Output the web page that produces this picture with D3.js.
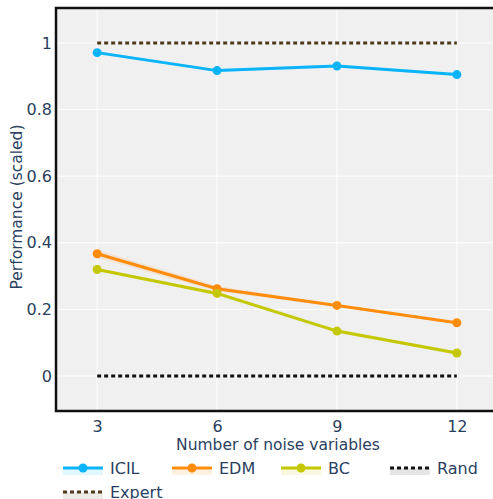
<!DOCTYPE html>
<html>
<head>
<meta charset="utf-8">
<script src="https://cdn.jsdelivr.net/npm/d3@7"></script>
<style>
  body { margin: 0; background: #fff; }
  text { font-family: "DejaVu Sans", Verdana, sans-serif; fill: #2a3f5f; }
</style>
</head>
<body>
<div id="chart"></div>
<script>
var noiseVars = [3, 6, 9, 12];
var icil = [0.971, 0.917, 0.931, 0.905];
var icilErr = [0.004, 0.004, 0.004, 0.004];
var edm = [0.367, 0.262, 0.212, 0.160];
var edmErr = [0.012, 0.008, 0.004, 0.004];
var bc = [0.320, 0.248, 0.135, 0.069];
var bcErr = [0.004, 0.006, 0.006, 0.006];
var expert = [1, 1, 1, 1];
var rand = [0, 0, 0, 0];
var yTicks = [0, 0.2, 0.4, 0.6, 0.8, 1];

var series = [
    { name: "ICIL", values: icil, err: icilErr, color: "#0ab4fa", fill: "rgba(10,180,250,0.12)", marker: true },
    { name: "EDM", values: edm, err: edmErr, color: "#ff8c0a", fill: "rgba(255,140,10,0.12)", marker: true },
    { name: "BC", values: bc, err: bcErr, color: "#c4c800", fill: "rgba(196,200,0,0.12)", marker: true },
    { name: "Rand", values: rand, err: null, color: "#111111", fill: "rgba(0,0,0,0.1)", dash: true },
    { name: "Expert", values: expert, err: null, color: "#4e3b1c", fill: "rgba(78,59,28,0.1)", dash: true }
];

function draw(divId) {
    d3.select(divId).html("");

    var width = 493,
        height = 499;

    var svg = d3.select(divId)
        .append("svg")
        .attr("width", width)
        .attr("height", height);

    var x = d3.scaleLinear().domain([1.97, 13.03]).range([56, 498]);
    var y = d3.scaleLinear().domain([-0.105, 1.105]).range([411, 8]);

    svg.append("rect")
        .attr("x", x.range()[0]).attr("y", y.range()[1])
        .attr("width", x.range()[1] - x.range()[0])
        .attr("height", y.range()[0] - y.range()[1])
        .attr("fill", "#f0f0f0");

    // grid
    svg.append("g").selectAll("line")
        .data(yTicks).enter().append("line")
        .attr("x1", x.range()[0]).attr("x2", x.range()[1])
        .attr("y1", function(d){ return y(d); }).attr("y2", function(d){ return y(d); })
        .style("stroke", "white").style("stroke-width", 1);
    svg.append("g").selectAll("line")
        .data(noiseVars).enter().append("line")
        .attr("y1", y.range()[0]).attr("y2", y.range()[1])
        .attr("x1", function(d){ return x(d); }).attr("x2", function(d){ return x(d); })
        .style("stroke", "white").style("stroke-width", 1);

    // axes
    var yAxis = svg.append("g")
        .attr("transform", "translate(" + (x.range()[0] - 4) + ",0)")
        .call(d3.axisLeft(y).tickValues(yTicks).tickSize(0).tickPadding(0).tickFormat(d3.format("~g")));
    var xAxis = svg.append("g")
        .attr("transform", "translate(0," + (y.range()[0] + 4) + ")")
        .call(d3.axisBottom(x).tickValues(noiseVars).tickSize(0).tickPadding(6));
    [xAxis, yAxis].forEach(function(a){
        a.select(".domain").remove();
        a.selectAll("text").style("font-size", "16px").style("fill", "#2a3f5f")
            .style("font-family", "DejaVu Sans, Verdana, sans-serif");
    });

    svg.append("text")
        .attr("x", 278).attr("y", 450)
        .attr("text-anchor", "middle")
        .style("font-size", "15.5px")
        .text("Number of noise variables");
    svg.append("text")
        .attr("transform", "translate(22,207) rotate(-90)")
        .attr("text-anchor", "middle")
        .style("font-size", "15.5px")
        .text("Performance (scaled)");

    var line = d3.line()
        .x(function(d){ return x(d.x); })
        .y(function(d){ return y(d.y); });
    var area = d3.area()
        .x(function(d){ return x(d.x); })
        .y0(function(d){ return y(d.y - d.e); })
        .y1(function(d){ return y(d.y + d.e); });

    var drawOrder = [series[4], series[3], series[0], series[1], series[2]];
    drawOrder.forEach(function(s) {
        var pts = noiseVars.map(function(v, i){
            return { x: v, y: s.values[i], e: s.err ? s.err[i] : 0 };
        });
        if (s.err) {
            svg.append("path").datum(pts)
                .attr("d", area).attr("fill", s.fill);
        }
        svg.append("path").datum(pts)
            .attr("d", line)
            .attr("fill", "none")
            .style("stroke", s.color)
            .style("stroke-width", 3)
            .style("stroke-dasharray", s.dash ? "4,3" : null);
        if (s.marker) {
            svg.append("g").selectAll("circle")
                .data(pts).enter().append("circle")
                .attr("cx", function(d){ return x(d.x); })
                .attr("cy", function(d){ return y(d.y); })
                .attr("r", 4.5)
                .attr("fill", s.color);
        }
    });

    // frame: left, top, bottom
    svg.append("path")
        .attr("d", "M" + width + "," + y.range()[1] + "H" + x.range()[0] + "V" + y.range()[0] + "H" + width)
        .attr("fill", "none")
        .style("stroke", "#111")
        .style("stroke-width", 2.5);

    // legend
    var legendPos = [[63, 468], [172, 468], [281, 468], [390, 468], [63, 492]];
    series.forEach(function(s, i) {
        var g = svg.append("g").attr("transform", "translate(" + legendPos[i][0] + "," + legendPos[i][1] + ")");
        g.append("rect").attr("x", 0).attr("y", 0).attr("width", 40).attr("height", 7).attr("fill", s.fill);
        g.append("line").attr("x1", 0).attr("x2", 40).attr("y1", 0).attr("y2", 0)
            .style("stroke", s.color).style("stroke-width", 3)
            .style("stroke-dasharray", s.dash ? "4,3" : null);
        if (s.marker) g.append("circle").attr("cx", 20).attr("cy", 0).attr("r", 4.5).attr("fill", s.color);
        g.append("text").attr("x", 47).attr("y", 0).attr("dy", "0.36em")
            .style("font-size", "16px").text(s.name);
    });
}

draw("#chart");
</script>
</body>
</html>
